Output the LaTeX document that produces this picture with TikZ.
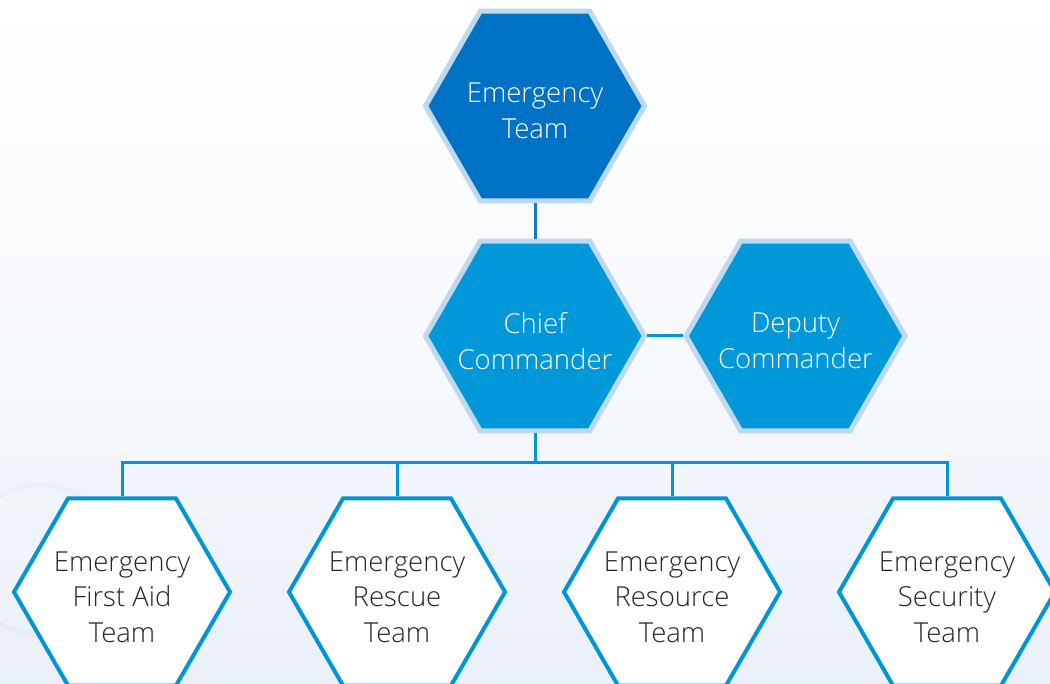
\documentclass[tikz,border=0pt]{standalone}
\usepackage{fontspec}
\setmainfont{Open Sans}[UprightFont=* Light]
\usetikzlibrary{shapes.geometric}
\definecolor{topblue}{HTML}{0072C6}
\definecolor{midblue}{HTML}{0098D8}
\definecolor{rimblue}{HTML}{BDD8EF}
\definecolor{lineblue}{HTML}{0096D6}
\definecolor{linkblue}{HTML}{1478C8}
\definecolor{textgray}{HTML}{262626}
\definecolor{bgbottom}{HTML}{EAF0F8}
\tikzset{
  hexbase/.style={regular polygon, regular polygon sides=6, inner sep=0pt},
  hextext/.style={align=center, font=\fontsize{27.5}{35.5}\selectfont, inner sep=0pt, yshift=-5pt},
  hexdark/.style={hexbase, minimum size=219pt, fill=topblue, draw=rimblue, line width=5pt,
    label={[hextext, text=white]center:#1}},
  hexmid/.style={hexbase, minimum size=219pt, fill=midblue, draw=rimblue, line width=5pt,
    label={[hextext, text=white]center:#1}},
  hexwhite/.style={hexbase, minimum size=216pt, fill=white, draw=lineblue, line width=4pt,
    label={[hextext, text=textgray]center:#1}},
  link/.style={draw=linkblue, line width=3pt},
  bus/.style={draw=lineblue, line width=3pt},
}
\begin{document}
\begin{tikzpicture}[x=1pt,y=-1pt]
\useasboundingbox (0,0) rectangle (1050,684);
\clip (0,0) rectangle (1050,684);
\shade[top color=white, bottom color=bgbottom, middle color=white!60!bgbottom] (0,0) rectangle (1050,684);
\draw[white!92!blue!60!gray, line width=5pt, opacity=0.12] (40,560) circle (75);
\node[hexdark={Emergency\\Team}] (team) at (535,106) {};
\node[hexmid={Chief\\Commander}] (chief) at (535,336) {};
\node[hexmid={Deputy\\Commander}] (deputy) at (795.5,336) {};
\node[hexwhite={Emergency\\First Aid\\Team}] (b1) at (122,592) {};
\node[hexwhite={Emergency\\Rescue\\Team}] (b2) at (397,592) {};
\node[hexwhite={Emergency\\Resource\\Team}] (b3) at (672,592) {};
\node[hexwhite={Emergency\\Security\\Team}] (b4) at (947,592) {};
\coordinate (bus) at (535,463);
\draw[link] (team.south) -- (chief.north);
\draw[bus] (chief.east) -- (deputy.west);
\draw[bus] (chief.south) -- (bus);
\draw[bus] (b1.north) |- (bus) -| (b4.north);
\draw[bus] (b2.north) -- (b2.north |- bus);
\draw[bus] (b3.north) -- (b3.north |- bus);
\end{tikzpicture}
\end{document}
